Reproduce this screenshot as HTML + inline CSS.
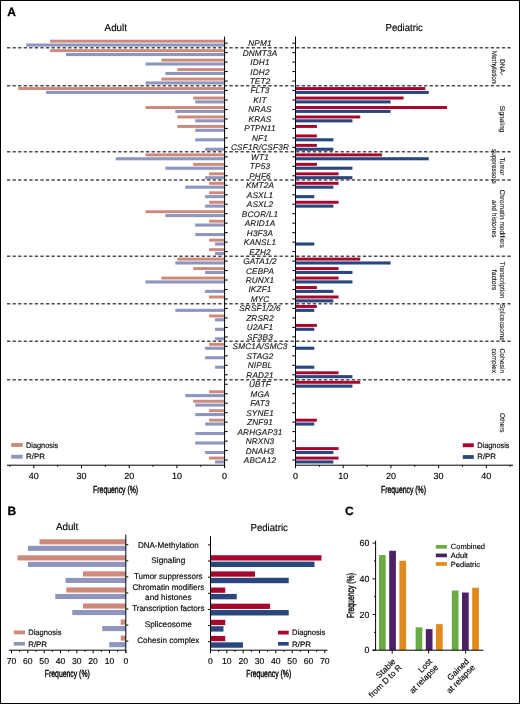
<!DOCTYPE html><html><head><meta charset="utf-8"><style>html,body{margin:0;padding:0;background:#fff;}svg{display:block;will-change:transform;}text{font-family:"Liberation Sans", sans-serif;stroke:#111;stroke-width:0.16px;text-rendering:geometricPrecision;}</style></head><body>
<svg width="520" height="704" viewBox="0 0 520 704">
<text x="7.2" y="16" font-size="12" font-weight="bold" style="stroke-width:0.3px">A</text>
<text x="115.8" y="31.1" font-size="10.2" text-anchor="middle" textLength="22.4" lengthAdjust="spacingAndGlyphs">Adult</text>
<text x="404.2" y="31.1" font-size="10.1" text-anchor="middle" textLength="37.2" lengthAdjust="spacingAndGlyphs">Pediatric</text>
<rect x="50.10" y="39.70" width="174.90" height="2.95" fill="#cd8a7b"/>
<rect x="26.25" y="43.50" width="198.75" height="3.1" fill="#8e96bd"/>
<rect x="50.10" y="49.17" width="174.90" height="2.95" fill="#cd8a7b"/>
<rect x="66.00" y="52.98" width="159.00" height="3.1" fill="#8e96bd"/>
<rect x="161.40" y="58.65" width="63.60" height="2.95" fill="#cd8a7b"/>
<rect x="145.50" y="62.45" width="79.50" height="3.1" fill="#8e96bd"/>
<rect x="177.30" y="68.12" width="47.70" height="2.95" fill="#cd8a7b"/>
<rect x="165.38" y="71.92" width="59.62" height="3.1" fill="#8e96bd"/>
<rect x="161.40" y="77.60" width="63.60" height="2.95" fill="#cd8a7b"/>
<rect x="145.50" y="81.40" width="79.50" height="3.1" fill="#8e96bd"/>
<rect x="18.30" y="87.08" width="206.70" height="2.95" fill="#cd8a7b"/>
<rect x="46.13" y="90.88" width="178.87" height="3.1" fill="#8e96bd"/>
<rect x="295.20" y="87.08" width="130.09" height="2.95" fill="#a8072d"/>
<rect x="295.20" y="90.88" width="133.56" height="3.1" fill="#29477e"/>
<rect x="193.20" y="96.55" width="31.80" height="2.95" fill="#cd8a7b"/>
<rect x="195.19" y="100.35" width="29.81" height="3.1" fill="#8e96bd"/>
<rect x="295.20" y="96.55" width="108.41" height="2.95" fill="#a8072d"/>
<rect x="295.20" y="100.35" width="95.40" height="3.1" fill="#29477e"/>
<rect x="145.50" y="106.03" width="79.50" height="2.95" fill="#cd8a7b"/>
<rect x="175.31" y="109.83" width="49.69" height="3.1" fill="#8e96bd"/>
<rect x="295.20" y="106.03" width="151.77" height="2.95" fill="#a8072d"/>
<rect x="295.20" y="109.83" width="95.40" height="3.1" fill="#29477e"/>
<rect x="177.30" y="115.50" width="47.70" height="2.95" fill="#cd8a7b"/>
<rect x="195.19" y="119.30" width="29.81" height="3.1" fill="#8e96bd"/>
<rect x="295.20" y="115.50" width="65.05" height="2.95" fill="#a8072d"/>
<rect x="295.20" y="119.30" width="57.24" height="3.1" fill="#29477e"/>
<rect x="177.30" y="124.97" width="47.70" height="2.95" fill="#cd8a7b"/>
<rect x="195.19" y="128.77" width="29.81" height="3.1" fill="#8e96bd"/>
<rect x="295.20" y="124.97" width="21.68" height="2.95" fill="#a8072d"/>
<rect x="195.19" y="138.25" width="29.81" height="3.1" fill="#8e96bd"/>
<rect x="295.20" y="134.45" width="21.68" height="2.95" fill="#a8072d"/>
<rect x="295.20" y="138.25" width="38.16" height="3.1" fill="#29477e"/>
<rect x="205.12" y="147.72" width="19.88" height="3.1" fill="#8e96bd"/>
<rect x="295.20" y="143.92" width="21.68" height="2.95" fill="#a8072d"/>
<rect x="295.20" y="147.72" width="38.16" height="3.1" fill="#29477e"/>
<rect x="145.50" y="153.40" width="79.50" height="2.95" fill="#cd8a7b"/>
<rect x="115.69" y="157.20" width="109.31" height="3.1" fill="#8e96bd"/>
<rect x="295.20" y="153.40" width="86.73" height="2.95" fill="#a8072d"/>
<rect x="295.20" y="157.20" width="133.56" height="3.1" fill="#29477e"/>
<rect x="193.20" y="162.88" width="31.80" height="2.95" fill="#cd8a7b"/>
<rect x="165.38" y="166.67" width="59.62" height="3.1" fill="#8e96bd"/>
<rect x="295.20" y="162.88" width="21.68" height="2.95" fill="#a8072d"/>
<rect x="295.20" y="166.67" width="57.24" height="3.1" fill="#29477e"/>
<rect x="209.10" y="172.35" width="15.90" height="2.95" fill="#cd8a7b"/>
<rect x="205.12" y="176.15" width="19.88" height="3.1" fill="#8e96bd"/>
<rect x="295.20" y="172.35" width="43.36" height="2.95" fill="#a8072d"/>
<rect x="295.20" y="176.15" width="57.24" height="3.1" fill="#29477e"/>
<rect x="209.10" y="181.83" width="15.90" height="2.95" fill="#cd8a7b"/>
<rect x="185.25" y="185.62" width="39.75" height="3.1" fill="#8e96bd"/>
<rect x="295.20" y="181.83" width="43.36" height="2.95" fill="#a8072d"/>
<rect x="295.20" y="185.62" width="38.16" height="3.1" fill="#29477e"/>
<rect x="209.10" y="191.30" width="15.90" height="2.95" fill="#cd8a7b"/>
<rect x="205.12" y="195.10" width="19.88" height="3.1" fill="#8e96bd"/>
<rect x="295.20" y="195.10" width="19.08" height="3.1" fill="#29477e"/>
<rect x="209.10" y="200.78" width="15.90" height="2.95" fill="#cd8a7b"/>
<rect x="205.12" y="204.57" width="19.88" height="3.1" fill="#8e96bd"/>
<rect x="295.20" y="200.78" width="43.36" height="2.95" fill="#a8072d"/>
<rect x="295.20" y="204.57" width="38.16" height="3.1" fill="#29477e"/>
<rect x="145.50" y="210.25" width="79.50" height="2.95" fill="#cd8a7b"/>
<rect x="165.38" y="214.05" width="59.62" height="3.1" fill="#8e96bd"/>
<rect x="209.10" y="219.72" width="15.90" height="2.95" fill="#cd8a7b"/>
<rect x="195.19" y="223.52" width="29.81" height="3.1" fill="#8e96bd"/>
<rect x="195.19" y="233.00" width="29.81" height="3.1" fill="#8e96bd"/>
<rect x="209.10" y="238.67" width="15.90" height="2.95" fill="#cd8a7b"/>
<rect x="215.06" y="242.47" width="9.94" height="3.1" fill="#8e96bd"/>
<rect x="295.20" y="242.47" width="19.08" height="3.1" fill="#29477e"/>
<rect x="209.10" y="248.15" width="15.90" height="2.95" fill="#cd8a7b"/>
<rect x="215.06" y="251.95" width="9.94" height="3.1" fill="#8e96bd"/>
<rect x="177.30" y="257.62" width="47.70" height="2.95" fill="#cd8a7b"/>
<rect x="175.31" y="261.42" width="49.69" height="3.1" fill="#8e96bd"/>
<rect x="295.20" y="257.62" width="65.05" height="2.95" fill="#a8072d"/>
<rect x="295.20" y="261.42" width="95.40" height="3.1" fill="#29477e"/>
<rect x="193.20" y="267.10" width="31.80" height="2.95" fill="#cd8a7b"/>
<rect x="205.12" y="270.90" width="19.88" height="3.1" fill="#8e96bd"/>
<rect x="295.20" y="267.10" width="43.36" height="2.95" fill="#a8072d"/>
<rect x="295.20" y="270.90" width="57.24" height="3.1" fill="#29477e"/>
<rect x="161.40" y="276.57" width="63.60" height="2.95" fill="#cd8a7b"/>
<rect x="145.50" y="280.38" width="79.50" height="3.1" fill="#8e96bd"/>
<rect x="295.20" y="276.57" width="43.36" height="2.95" fill="#a8072d"/>
<rect x="295.20" y="280.38" width="57.24" height="3.1" fill="#29477e"/>
<rect x="205.12" y="289.85" width="19.88" height="3.1" fill="#8e96bd"/>
<rect x="295.20" y="286.05" width="21.68" height="2.95" fill="#a8072d"/>
<rect x="295.20" y="289.85" width="38.16" height="3.1" fill="#29477e"/>
<rect x="209.10" y="295.52" width="15.90" height="2.95" fill="#cd8a7b"/>
<rect x="295.20" y="295.52" width="43.36" height="2.95" fill="#a8072d"/>
<rect x="295.20" y="299.32" width="38.16" height="3.1" fill="#29477e"/>
<rect x="175.31" y="308.80" width="49.69" height="3.1" fill="#8e96bd"/>
<rect x="295.20" y="305.00" width="21.68" height="2.95" fill="#a8072d"/>
<rect x="295.20" y="308.80" width="19.08" height="3.1" fill="#29477e"/>
<rect x="209.10" y="314.47" width="15.90" height="2.95" fill="#cd8a7b"/>
<rect x="215.06" y="318.27" width="9.94" height="3.1" fill="#8e96bd"/>
<rect x="215.06" y="327.75" width="9.94" height="3.1" fill="#8e96bd"/>
<rect x="295.20" y="323.95" width="21.68" height="2.95" fill="#a8072d"/>
<rect x="295.20" y="327.75" width="19.08" height="3.1" fill="#29477e"/>
<rect x="215.06" y="337.22" width="9.94" height="3.1" fill="#8e96bd"/>
<rect x="209.10" y="342.90" width="15.90" height="2.95" fill="#cd8a7b"/>
<rect x="205.12" y="346.70" width="19.88" height="3.1" fill="#8e96bd"/>
<rect x="295.20" y="346.70" width="19.08" height="3.1" fill="#29477e"/>
<rect x="205.12" y="356.18" width="19.88" height="3.1" fill="#8e96bd"/>
<rect x="215.06" y="365.65" width="9.94" height="3.1" fill="#8e96bd"/>
<rect x="295.20" y="365.65" width="19.08" height="3.1" fill="#29477e"/>
<rect x="295.20" y="371.32" width="43.36" height="2.95" fill="#a8072d"/>
<rect x="295.20" y="375.12" width="57.24" height="3.1" fill="#29477e"/>
<rect x="295.20" y="380.80" width="65.05" height="2.95" fill="#a8072d"/>
<rect x="295.20" y="384.60" width="57.24" height="3.1" fill="#29477e"/>
<rect x="209.10" y="390.27" width="15.90" height="2.95" fill="#cd8a7b"/>
<rect x="185.25" y="394.07" width="39.75" height="3.1" fill="#8e96bd"/>
<rect x="193.20" y="399.75" width="31.80" height="2.95" fill="#cd8a7b"/>
<rect x="195.19" y="403.55" width="29.81" height="3.1" fill="#8e96bd"/>
<rect x="209.10" y="409.22" width="15.90" height="2.95" fill="#cd8a7b"/>
<rect x="195.19" y="413.02" width="29.81" height="3.1" fill="#8e96bd"/>
<rect x="209.10" y="418.70" width="15.90" height="2.95" fill="#cd8a7b"/>
<rect x="205.12" y="422.50" width="19.88" height="3.1" fill="#8e96bd"/>
<rect x="295.20" y="418.70" width="21.68" height="2.95" fill="#a8072d"/>
<rect x="295.20" y="422.50" width="19.08" height="3.1" fill="#29477e"/>
<rect x="195.19" y="431.97" width="29.81" height="3.1" fill="#8e96bd"/>
<rect x="195.19" y="441.45" width="29.81" height="3.1" fill="#8e96bd"/>
<rect x="205.12" y="450.93" width="19.88" height="3.1" fill="#8e96bd"/>
<rect x="295.20" y="447.12" width="43.36" height="2.95" fill="#a8072d"/>
<rect x="295.20" y="450.93" width="38.16" height="3.1" fill="#29477e"/>
<rect x="209.10" y="456.60" width="15.90" height="2.95" fill="#cd8a7b"/>
<rect x="215.06" y="460.40" width="9.94" height="3.1" fill="#8e96bd"/>
<rect x="295.20" y="456.60" width="43.36" height="2.95" fill="#a8072d"/>
<rect x="295.20" y="460.40" width="38.16" height="3.1" fill="#29477e"/>
<line x1="7" y1="47.75" x2="511.5" y2="47.75" stroke="#4d4d4d" stroke-width="1.3" stroke-dasharray="3.3 2.26"/>
<line x1="7" y1="85.75" x2="511.5" y2="85.75" stroke="#4d4d4d" stroke-width="1.3" stroke-dasharray="3.3 2.26"/>
<line x1="7" y1="151.75" x2="511.5" y2="151.75" stroke="#4d4d4d" stroke-width="1.3" stroke-dasharray="3.3 2.26"/>
<line x1="7" y1="180.0" x2="511.5" y2="180.0" stroke="#4d4d4d" stroke-width="1.3" stroke-dasharray="3.3 2.26"/>
<line x1="7" y1="256.25" x2="511.5" y2="256.25" stroke="#4d4d4d" stroke-width="1.3" stroke-dasharray="3.3 2.26"/>
<line x1="7" y1="303.75" x2="511.5" y2="303.75" stroke="#4d4d4d" stroke-width="1.3" stroke-dasharray="3.3 2.26"/>
<line x1="7" y1="341.25" x2="511.5" y2="341.25" stroke="#4d4d4d" stroke-width="1.3" stroke-dasharray="3.3 2.26"/>
<line x1="7" y1="379.75" x2="511.5" y2="379.75" stroke="#4d4d4d" stroke-width="1.3" stroke-dasharray="3.3 2.26"/>
<g stroke="#000" stroke-width="1" fill="none">
<line x1="224.6" y1="36.5" x2="224.6" y2="468"/>
<line x1="295.5" y1="36.5" x2="295.5" y2="468"/>
<line x1="7" y1="465.2" x2="224.6" y2="465.2"/>
<line x1="295.5" y1="465.2" x2="513" y2="465.2"/>
<line x1="224.6" y1="43.15" x2="227.8" y2="43.15"/>
<line x1="292.3" y1="43.15" x2="295.5" y2="43.15"/>
<line x1="224.6" y1="52.62" x2="227.8" y2="52.62"/>
<line x1="292.3" y1="52.62" x2="295.5" y2="52.62"/>
<line x1="224.6" y1="62.10" x2="227.8" y2="62.10"/>
<line x1="292.3" y1="62.10" x2="295.5" y2="62.10"/>
<line x1="224.6" y1="71.57" x2="227.8" y2="71.57"/>
<line x1="292.3" y1="71.57" x2="295.5" y2="71.57"/>
<line x1="224.6" y1="81.05" x2="227.8" y2="81.05"/>
<line x1="292.3" y1="81.05" x2="295.5" y2="81.05"/>
<line x1="224.6" y1="90.52" x2="227.8" y2="90.52"/>
<line x1="292.3" y1="90.52" x2="295.5" y2="90.52"/>
<line x1="224.6" y1="100.00" x2="227.8" y2="100.00"/>
<line x1="292.3" y1="100.00" x2="295.5" y2="100.00"/>
<line x1="224.6" y1="109.47" x2="227.8" y2="109.47"/>
<line x1="292.3" y1="109.47" x2="295.5" y2="109.47"/>
<line x1="224.6" y1="118.95" x2="227.8" y2="118.95"/>
<line x1="292.3" y1="118.95" x2="295.5" y2="118.95"/>
<line x1="224.6" y1="128.42" x2="227.8" y2="128.42"/>
<line x1="292.3" y1="128.42" x2="295.5" y2="128.42"/>
<line x1="224.6" y1="137.90" x2="227.8" y2="137.90"/>
<line x1="292.3" y1="137.90" x2="295.5" y2="137.90"/>
<line x1="224.6" y1="147.37" x2="227.8" y2="147.37"/>
<line x1="292.3" y1="147.37" x2="295.5" y2="147.37"/>
<line x1="224.6" y1="156.85" x2="227.8" y2="156.85"/>
<line x1="292.3" y1="156.85" x2="295.5" y2="156.85"/>
<line x1="224.6" y1="166.32" x2="227.8" y2="166.32"/>
<line x1="292.3" y1="166.32" x2="295.5" y2="166.32"/>
<line x1="224.6" y1="175.80" x2="227.8" y2="175.80"/>
<line x1="292.3" y1="175.80" x2="295.5" y2="175.80"/>
<line x1="224.6" y1="185.28" x2="227.8" y2="185.28"/>
<line x1="292.3" y1="185.28" x2="295.5" y2="185.28"/>
<line x1="224.6" y1="194.75" x2="227.8" y2="194.75"/>
<line x1="292.3" y1="194.75" x2="295.5" y2="194.75"/>
<line x1="224.6" y1="204.22" x2="227.8" y2="204.22"/>
<line x1="292.3" y1="204.22" x2="295.5" y2="204.22"/>
<line x1="224.6" y1="213.70" x2="227.8" y2="213.70"/>
<line x1="292.3" y1="213.70" x2="295.5" y2="213.70"/>
<line x1="224.6" y1="223.17" x2="227.8" y2="223.17"/>
<line x1="292.3" y1="223.17" x2="295.5" y2="223.17"/>
<line x1="224.6" y1="232.65" x2="227.8" y2="232.65"/>
<line x1="292.3" y1="232.65" x2="295.5" y2="232.65"/>
<line x1="224.6" y1="242.12" x2="227.8" y2="242.12"/>
<line x1="292.3" y1="242.12" x2="295.5" y2="242.12"/>
<line x1="224.6" y1="251.60" x2="227.8" y2="251.60"/>
<line x1="292.3" y1="251.60" x2="295.5" y2="251.60"/>
<line x1="224.6" y1="261.07" x2="227.8" y2="261.07"/>
<line x1="292.3" y1="261.07" x2="295.5" y2="261.07"/>
<line x1="224.6" y1="270.55" x2="227.8" y2="270.55"/>
<line x1="292.3" y1="270.55" x2="295.5" y2="270.55"/>
<line x1="224.6" y1="280.03" x2="227.8" y2="280.03"/>
<line x1="292.3" y1="280.03" x2="295.5" y2="280.03"/>
<line x1="224.6" y1="289.50" x2="227.8" y2="289.50"/>
<line x1="292.3" y1="289.50" x2="295.5" y2="289.50"/>
<line x1="224.6" y1="298.98" x2="227.8" y2="298.98"/>
<line x1="292.3" y1="298.98" x2="295.5" y2="298.98"/>
<line x1="224.6" y1="308.45" x2="227.8" y2="308.45"/>
<line x1="292.3" y1="308.45" x2="295.5" y2="308.45"/>
<line x1="224.6" y1="317.93" x2="227.8" y2="317.93"/>
<line x1="292.3" y1="317.93" x2="295.5" y2="317.93"/>
<line x1="224.6" y1="327.40" x2="227.8" y2="327.40"/>
<line x1="292.3" y1="327.40" x2="295.5" y2="327.40"/>
<line x1="224.6" y1="336.88" x2="227.8" y2="336.88"/>
<line x1="292.3" y1="336.88" x2="295.5" y2="336.88"/>
<line x1="224.6" y1="346.35" x2="227.8" y2="346.35"/>
<line x1="292.3" y1="346.35" x2="295.5" y2="346.35"/>
<line x1="224.6" y1="355.83" x2="227.8" y2="355.83"/>
<line x1="292.3" y1="355.83" x2="295.5" y2="355.83"/>
<line x1="224.6" y1="365.30" x2="227.8" y2="365.30"/>
<line x1="292.3" y1="365.30" x2="295.5" y2="365.30"/>
<line x1="224.6" y1="374.78" x2="227.8" y2="374.78"/>
<line x1="292.3" y1="374.78" x2="295.5" y2="374.78"/>
<line x1="224.6" y1="384.25" x2="227.8" y2="384.25"/>
<line x1="292.3" y1="384.25" x2="295.5" y2="384.25"/>
<line x1="224.6" y1="393.73" x2="227.8" y2="393.73"/>
<line x1="292.3" y1="393.73" x2="295.5" y2="393.73"/>
<line x1="224.6" y1="403.20" x2="227.8" y2="403.20"/>
<line x1="292.3" y1="403.20" x2="295.5" y2="403.20"/>
<line x1="224.6" y1="412.68" x2="227.8" y2="412.68"/>
<line x1="292.3" y1="412.68" x2="295.5" y2="412.68"/>
<line x1="224.6" y1="422.15" x2="227.8" y2="422.15"/>
<line x1="292.3" y1="422.15" x2="295.5" y2="422.15"/>
<line x1="224.6" y1="431.62" x2="227.8" y2="431.62"/>
<line x1="292.3" y1="431.62" x2="295.5" y2="431.62"/>
<line x1="224.6" y1="441.10" x2="227.8" y2="441.10"/>
<line x1="292.3" y1="441.10" x2="295.5" y2="441.10"/>
<line x1="224.6" y1="450.58" x2="227.8" y2="450.58"/>
<line x1="292.3" y1="450.58" x2="295.5" y2="450.58"/>
<line x1="224.6" y1="460.05" x2="227.8" y2="460.05"/>
<line x1="292.3" y1="460.05" x2="295.5" y2="460.05"/>
<line x1="224.60" y1="465.2" x2="224.60" y2="468.2"/>
<line x1="295.50" y1="465.2" x2="295.50" y2="468.2"/>
<line x1="200.75" y1="465.2" x2="200.75" y2="466.8"/>
<line x1="319.35" y1="465.2" x2="319.35" y2="466.8"/>
<line x1="176.90" y1="465.2" x2="176.90" y2="468.2"/>
<line x1="343.20" y1="465.2" x2="343.20" y2="468.2"/>
<line x1="153.05" y1="465.2" x2="153.05" y2="466.8"/>
<line x1="367.05" y1="465.2" x2="367.05" y2="466.8"/>
<line x1="129.20" y1="465.2" x2="129.20" y2="468.2"/>
<line x1="390.90" y1="465.2" x2="390.90" y2="468.2"/>
<line x1="105.35" y1="465.2" x2="105.35" y2="466.8"/>
<line x1="414.75" y1="465.2" x2="414.75" y2="466.8"/>
<line x1="81.50" y1="465.2" x2="81.50" y2="468.2"/>
<line x1="438.60" y1="465.2" x2="438.60" y2="468.2"/>
<line x1="57.65" y1="465.2" x2="57.65" y2="466.8"/>
<line x1="462.45" y1="465.2" x2="462.45" y2="466.8"/>
<line x1="33.80" y1="465.2" x2="33.80" y2="468.2"/>
<line x1="486.30" y1="465.2" x2="486.30" y2="468.2"/>
<line x1="9.95" y1="465.2" x2="9.95" y2="466.8"/>
<line x1="510.15" y1="465.2" x2="510.15" y2="466.8"/>
</g>
<text x="260" y="46.10" font-size="8.2" font-style="italic" fill="#1a1a1a" style="stroke:#1a1a1a;stroke-width:0.14px" letter-spacing="0.18" text-anchor="middle">NPM1</text>
<text x="260" y="55.57" font-size="8.2" font-style="italic" fill="#1a1a1a" style="stroke:#1a1a1a;stroke-width:0.14px" letter-spacing="0.18" text-anchor="middle">DNMT3A</text>
<text x="260" y="65.05" font-size="8.2" font-style="italic" fill="#1a1a1a" style="stroke:#1a1a1a;stroke-width:0.14px" letter-spacing="0.18" text-anchor="middle">IDH1</text>
<text x="260" y="74.52" font-size="8.2" font-style="italic" fill="#1a1a1a" style="stroke:#1a1a1a;stroke-width:0.14px" letter-spacing="0.18" text-anchor="middle">IDH2</text>
<text x="260" y="84.00" font-size="8.2" font-style="italic" fill="#1a1a1a" style="stroke:#1a1a1a;stroke-width:0.14px" letter-spacing="0.18" text-anchor="middle">TET2</text>
<text x="260" y="93.47" font-size="8.2" font-style="italic" fill="#1a1a1a" style="stroke:#1a1a1a;stroke-width:0.14px" letter-spacing="0.18" text-anchor="middle">FLT3</text>
<text x="260" y="102.95" font-size="8.2" font-style="italic" fill="#1a1a1a" style="stroke:#1a1a1a;stroke-width:0.14px" letter-spacing="0.18" text-anchor="middle">KIT</text>
<text x="260" y="112.42" font-size="8.2" font-style="italic" fill="#1a1a1a" style="stroke:#1a1a1a;stroke-width:0.14px" letter-spacing="0.18" text-anchor="middle">NRAS</text>
<text x="260" y="121.90" font-size="8.2" font-style="italic" fill="#1a1a1a" style="stroke:#1a1a1a;stroke-width:0.14px" letter-spacing="0.18" text-anchor="middle">KRAS</text>
<text x="260" y="131.38" font-size="8.2" font-style="italic" fill="#1a1a1a" style="stroke:#1a1a1a;stroke-width:0.14px" letter-spacing="0.18" text-anchor="middle">PTPN11</text>
<text x="260" y="140.85" font-size="8.2" font-style="italic" fill="#1a1a1a" style="stroke:#1a1a1a;stroke-width:0.14px" letter-spacing="0.18" text-anchor="middle">NF1</text>
<text x="260" y="150.32" font-size="8.2" font-style="italic" fill="#1a1a1a" style="stroke:#1a1a1a;stroke-width:0.14px" letter-spacing="0.18" text-anchor="middle">CSF1R/CSF3R</text>
<text x="260" y="159.80" font-size="8.2" font-style="italic" fill="#1a1a1a" style="stroke:#1a1a1a;stroke-width:0.14px" letter-spacing="0.18" text-anchor="middle">WT1</text>
<text x="260" y="169.28" font-size="8.2" font-style="italic" fill="#1a1a1a" style="stroke:#1a1a1a;stroke-width:0.14px" letter-spacing="0.18" text-anchor="middle">TP53</text>
<text x="260" y="178.75" font-size="8.2" font-style="italic" fill="#1a1a1a" style="stroke:#1a1a1a;stroke-width:0.14px" letter-spacing="0.18" text-anchor="middle">PHF6</text>
<text x="260" y="188.23" font-size="8.2" font-style="italic" fill="#1a1a1a" style="stroke:#1a1a1a;stroke-width:0.14px" letter-spacing="0.18" text-anchor="middle">KMT2A</text>
<text x="260" y="197.70" font-size="8.2" font-style="italic" fill="#1a1a1a" style="stroke:#1a1a1a;stroke-width:0.14px" letter-spacing="0.18" text-anchor="middle">ASXL1</text>
<text x="260" y="207.18" font-size="8.2" font-style="italic" fill="#1a1a1a" style="stroke:#1a1a1a;stroke-width:0.14px" letter-spacing="0.18" text-anchor="middle">ASXL2</text>
<text x="260" y="216.65" font-size="8.2" font-style="italic" fill="#1a1a1a" style="stroke:#1a1a1a;stroke-width:0.14px" letter-spacing="0.18" text-anchor="middle">BCOR/L1</text>
<text x="260" y="226.12" font-size="8.2" font-style="italic" fill="#1a1a1a" style="stroke:#1a1a1a;stroke-width:0.14px" letter-spacing="0.18" text-anchor="middle">ARID1A</text>
<text x="260" y="235.60" font-size="8.2" font-style="italic" fill="#1a1a1a" style="stroke:#1a1a1a;stroke-width:0.14px" letter-spacing="0.18" text-anchor="middle">H3F3A</text>
<text x="260" y="245.07" font-size="8.2" font-style="italic" fill="#1a1a1a" style="stroke:#1a1a1a;stroke-width:0.14px" letter-spacing="0.18" text-anchor="middle">KANSL1</text>
<text x="260" y="254.55" font-size="8.2" font-style="italic" fill="#1a1a1a" style="stroke:#1a1a1a;stroke-width:0.14px" letter-spacing="0.18" text-anchor="middle">EZH2</text>
<text x="260" y="264.02" font-size="8.2" font-style="italic" fill="#1a1a1a" style="stroke:#1a1a1a;stroke-width:0.14px" letter-spacing="0.18" text-anchor="middle">GATA1/2</text>
<text x="260" y="273.50" font-size="8.2" font-style="italic" fill="#1a1a1a" style="stroke:#1a1a1a;stroke-width:0.14px" letter-spacing="0.18" text-anchor="middle">CEBPA</text>
<text x="260" y="282.98" font-size="8.2" font-style="italic" fill="#1a1a1a" style="stroke:#1a1a1a;stroke-width:0.14px" letter-spacing="0.18" text-anchor="middle">RUNX1</text>
<text x="260" y="292.45" font-size="8.2" font-style="italic" fill="#1a1a1a" style="stroke:#1a1a1a;stroke-width:0.14px" letter-spacing="0.18" text-anchor="middle">IKZF1</text>
<text x="260" y="301.93" font-size="8.2" font-style="italic" fill="#1a1a1a" style="stroke:#1a1a1a;stroke-width:0.14px" letter-spacing="0.18" text-anchor="middle">MYC</text>
<text x="260" y="311.40" font-size="8.2" font-style="italic" fill="#1a1a1a" style="stroke:#1a1a1a;stroke-width:0.14px" letter-spacing="0.18" text-anchor="middle">SRSF1/2/6</text>
<text x="260" y="320.88" font-size="8.2" font-style="italic" fill="#1a1a1a" style="stroke:#1a1a1a;stroke-width:0.14px" letter-spacing="0.18" text-anchor="middle">ZRSR2</text>
<text x="260" y="330.35" font-size="8.2" font-style="italic" fill="#1a1a1a" style="stroke:#1a1a1a;stroke-width:0.14px" letter-spacing="0.18" text-anchor="middle">U2AF1</text>
<text x="260" y="339.82" font-size="8.2" font-style="italic" fill="#1a1a1a" style="stroke:#1a1a1a;stroke-width:0.14px" letter-spacing="0.18" text-anchor="middle">SF3B3</text>
<text x="260" y="349.30" font-size="8.2" font-style="italic" fill="#1a1a1a" style="stroke:#1a1a1a;stroke-width:0.14px" letter-spacing="0.18" text-anchor="middle">SMC1A/SMC3</text>
<text x="260" y="358.78" font-size="8.2" font-style="italic" fill="#1a1a1a" style="stroke:#1a1a1a;stroke-width:0.14px" letter-spacing="0.18" text-anchor="middle">STAG2</text>
<text x="260" y="368.25" font-size="8.2" font-style="italic" fill="#1a1a1a" style="stroke:#1a1a1a;stroke-width:0.14px" letter-spacing="0.18" text-anchor="middle">NIPBL</text>
<text x="260" y="377.73" font-size="8.2" font-style="italic" fill="#1a1a1a" style="stroke:#1a1a1a;stroke-width:0.14px" letter-spacing="0.18" text-anchor="middle">RAD21</text>
<text x="260" y="387.20" font-size="8.2" font-style="italic" fill="#1a1a1a" style="stroke:#1a1a1a;stroke-width:0.14px" letter-spacing="0.18" text-anchor="middle">UBTF</text>
<text x="260" y="396.68" font-size="8.2" font-style="italic" fill="#1a1a1a" style="stroke:#1a1a1a;stroke-width:0.14px" letter-spacing="0.18" text-anchor="middle">MGA</text>
<text x="260" y="406.15" font-size="8.2" font-style="italic" fill="#1a1a1a" style="stroke:#1a1a1a;stroke-width:0.14px" letter-spacing="0.18" text-anchor="middle">FAT3</text>
<text x="260" y="415.62" font-size="8.2" font-style="italic" fill="#1a1a1a" style="stroke:#1a1a1a;stroke-width:0.14px" letter-spacing="0.18" text-anchor="middle">SYNE1</text>
<text x="260" y="425.10" font-size="8.2" font-style="italic" fill="#1a1a1a" style="stroke:#1a1a1a;stroke-width:0.14px" letter-spacing="0.18" text-anchor="middle">ZNF91</text>
<text x="260" y="434.57" font-size="8.2" font-style="italic" fill="#1a1a1a" style="stroke:#1a1a1a;stroke-width:0.14px" letter-spacing="0.18" text-anchor="middle">ARHGAP31</text>
<text x="260" y="444.05" font-size="8.2" font-style="italic" fill="#1a1a1a" style="stroke:#1a1a1a;stroke-width:0.14px" letter-spacing="0.18" text-anchor="middle">NRXN3</text>
<text x="260" y="453.53" font-size="8.2" font-style="italic" fill="#1a1a1a" style="stroke:#1a1a1a;stroke-width:0.14px" letter-spacing="0.18" text-anchor="middle">DNAH3</text>
<text x="260" y="463.00" font-size="8.2" font-style="italic" fill="#1a1a1a" style="stroke:#1a1a1a;stroke-width:0.14px" letter-spacing="0.18" text-anchor="middle">ABCA12</text>
<text x="224.60" y="479" font-size="9" text-anchor="middle">0</text>
<text x="295.50" y="479" font-size="9" text-anchor="middle">0</text>
<text x="176.90" y="479" font-size="9" text-anchor="middle">10</text>
<text x="343.20" y="479" font-size="9" text-anchor="middle">10</text>
<text x="129.20" y="479" font-size="9" text-anchor="middle">20</text>
<text x="390.90" y="479" font-size="9" text-anchor="middle">20</text>
<text x="81.50" y="479" font-size="9" text-anchor="middle">30</text>
<text x="438.60" y="479" font-size="9" text-anchor="middle">30</text>
<text x="33.80" y="479" font-size="9" text-anchor="middle">40</text>
<text x="486.30" y="479" font-size="9" text-anchor="middle">40</text>
<text x="93.1" y="492.7" font-size="10.2" style="stroke:#000;stroke-width:0.4px" textLength="45" lengthAdjust="spacingAndGlyphs">Frequency (%)</text>
<text x="381" y="492.7" font-size="10.2" style="stroke:#000;stroke-width:0.4px" textLength="45" lengthAdjust="spacingAndGlyphs">Frequency (%)</text>
<rect x="11.2" y="443" width="11.5" height="3.9" fill="#cd8a7b"/>
<text x="26" y="447.7" font-size="7.9" textLength="32.3" lengthAdjust="spacingAndGlyphs">Diagnosis</text>
<rect x="11.2" y="454.8" width="11.5" height="3.9" fill="#8e96bd"/>
<text x="26" y="459.4" font-size="7.9">R/PR</text>
<rect x="462.8" y="443.3" width="11" height="3.9" fill="#a8072d"/>
<text x="477.2" y="447.7" font-size="7.9" textLength="32.3" lengthAdjust="spacingAndGlyphs">Diagnosis</text>
<rect x="462.8" y="455.1" width="11" height="3.8" fill="#29477e"/>
<text x="477.2" y="459.4" font-size="7.9">R/PR</text>
<text transform="translate(500.3,67.1) rotate(90)" x="0" y="0" font-size="7" fill="#111" style="stroke:#111;stroke-width:0.12px" text-anchor="middle" textLength="16.0" lengthAdjust="spacingAndGlyphs">DNA-</text>
<text transform="translate(492.4,67.1) rotate(90)" x="0" y="0" font-size="7" fill="#111" style="stroke:#111;stroke-width:0.12px" text-anchor="middle" textLength="32.800000000000004" lengthAdjust="spacingAndGlyphs">Methylation</text>
<text transform="translate(500.3,119.0) rotate(90)" x="0" y="0" font-size="7" fill="#111" style="stroke:#111;stroke-width:0.12px" text-anchor="middle" textLength="26.700000000000003" lengthAdjust="spacingAndGlyphs">Signaling</text>
<text transform="translate(500.3,166.4) rotate(90)" x="0" y="0" font-size="7" fill="#111" style="stroke:#111;stroke-width:0.12px" text-anchor="middle" textLength="17.700000000000003" lengthAdjust="spacingAndGlyphs">Tumor</text>
<text transform="translate(492.4,166.4) rotate(90)" x="0" y="0" font-size="7" fill="#111" style="stroke:#111;stroke-width:0.12px" text-anchor="middle" textLength="34.6" lengthAdjust="spacingAndGlyphs">suppressors</text>
<text transform="translate(500.3,218.7) rotate(90)" x="0" y="0" font-size="7" fill="#111" style="stroke:#111;stroke-width:0.12px" text-anchor="middle" textLength="58.1" lengthAdjust="spacingAndGlyphs">Chromatin modifiers</text>
<text transform="translate(492.4,218.7) rotate(90)" x="0" y="0" font-size="7" fill="#111" style="stroke:#111;stroke-width:0.12px" text-anchor="middle" textLength="37.5" lengthAdjust="spacingAndGlyphs">and histones</text>
<text transform="translate(500.3,280.0) rotate(90)" x="0" y="0" font-size="7" fill="#111" style="stroke:#111;stroke-width:0.12px" text-anchor="middle" textLength="36.4" lengthAdjust="spacingAndGlyphs">Transcription</text>
<text transform="translate(492.4,280.0) rotate(90)" x="0" y="0" font-size="7" fill="#111" style="stroke:#111;stroke-width:0.12px" text-anchor="middle" textLength="20.5" lengthAdjust="spacingAndGlyphs">factors</text>
<text transform="translate(500.3,322.3) rotate(90)" x="0" y="0" font-size="7" fill="#111" style="stroke:#111;stroke-width:0.12px" text-anchor="middle" textLength="36.800000000000004" lengthAdjust="spacingAndGlyphs">Spliceosome</text>
<text transform="translate(500.3,360.8) rotate(90)" x="0" y="0" font-size="7" fill="#111" style="stroke:#111;stroke-width:0.12px" text-anchor="middle" textLength="24.8" lengthAdjust="spacingAndGlyphs">Cohesin</text>
<text transform="translate(492.4,360.8) rotate(90)" x="0" y="0" font-size="7" fill="#111" style="stroke:#111;stroke-width:0.12px" text-anchor="middle" textLength="24.5" lengthAdjust="spacingAndGlyphs">complex</text>
<text transform="translate(500.3,422.8) rotate(90)" x="0" y="0" font-size="7" fill="#111" style="stroke:#111;stroke-width:0.12px" text-anchor="middle" textLength="19.700000000000003" lengthAdjust="spacingAndGlyphs">Others</text>
<text x="7.4" y="515" font-size="12" font-weight="bold" style="stroke-width:0.3px">B</text>
<text x="67.1" y="530" font-size="10.2" text-anchor="middle" textLength="22.4" lengthAdjust="spacingAndGlyphs">Adult</text>
<text x="269.2" y="530.8" font-size="10.1" text-anchor="middle" textLength="37.4" lengthAdjust="spacingAndGlyphs">Pediatric</text>
<rect x="39.5" y="539.25" width="86.30" height="5.15" fill="#cd8a7b"/>
<rect x="28" y="545.80" width="97.80" height="5.1" fill="#8e96bd"/>
<rect x="17.5" y="555.30" width="108.30" height="5.15" fill="#cd8a7b"/>
<rect x="28" y="561.85" width="97.80" height="5.1" fill="#8e96bd"/>
<rect x="210.5" y="555.24" width="111.00" height="5.3" fill="#a8072d"/>
<rect x="210.5" y="561.64" width="104.00" height="5.4" fill="#29477e"/>
<rect x="83" y="571.35" width="42.80" height="5.15" fill="#cd8a7b"/>
<rect x="65.5" y="577.90" width="60.30" height="5.1" fill="#8e96bd"/>
<rect x="210.5" y="571.38" width="44.50" height="5.3" fill="#a8072d"/>
<rect x="210.5" y="577.78" width="78.25" height="5.4" fill="#29477e"/>
<rect x="66.25" y="587.40" width="59.55" height="5.15" fill="#cd8a7b"/>
<rect x="55.25" y="593.95" width="70.55" height="5.1" fill="#8e96bd"/>
<rect x="210.5" y="587.52" width="14.75" height="5.3" fill="#a8072d"/>
<rect x="210.5" y="593.92" width="26.25" height="5.4" fill="#29477e"/>
<rect x="83" y="603.45" width="42.80" height="5.15" fill="#cd8a7b"/>
<rect x="72.25" y="610.00" width="53.55" height="5.1" fill="#8e96bd"/>
<rect x="210.5" y="603.66" width="59.50" height="5.3" fill="#a8072d"/>
<rect x="210.5" y="610.06" width="78.25" height="5.4" fill="#29477e"/>
<rect x="120.75" y="619.50" width="5.05" height="5.15" fill="#cd8a7b"/>
<rect x="102.25" y="626.05" width="23.55" height="5.1" fill="#8e96bd"/>
<rect x="210.5" y="619.80" width="14.75" height="5.3" fill="#a8072d"/>
<rect x="210.5" y="626.20" width="13.00" height="5.4" fill="#29477e"/>
<rect x="120.75" y="635.55" width="5.05" height="5.15" fill="#cd8a7b"/>
<rect x="109.25" y="642.10" width="16.55" height="5.1" fill="#8e96bd"/>
<rect x="210.5" y="635.94" width="14.75" height="5.3" fill="#a8072d"/>
<rect x="210.5" y="642.34" width="32.50" height="5.4" fill="#29477e"/>
<g stroke="#000" stroke-width="1" fill="none">
<line x1="125.8" y1="534.5" x2="125.8" y2="653"/>
<line x1="210.5" y1="536.2" x2="210.5" y2="653"/>
<line x1="9" y1="650.2" x2="125.8" y2="650.2"/>
<line x1="210.5" y1="650.2" x2="327.5" y2="650.2"/>
<line x1="125.8" y1="544.80" x2="128.3" y2="544.80"/>
<line x1="208.0" y1="544.90" x2="210.5" y2="544.90"/>
<line x1="125.8" y1="560.85" x2="128.3" y2="560.85"/>
<line x1="208.0" y1="561.04" x2="210.5" y2="561.04"/>
<line x1="125.8" y1="576.90" x2="128.3" y2="576.90"/>
<line x1="208.0" y1="577.18" x2="210.5" y2="577.18"/>
<line x1="125.8" y1="592.95" x2="128.3" y2="592.95"/>
<line x1="208.0" y1="593.32" x2="210.5" y2="593.32"/>
<line x1="125.8" y1="609.00" x2="128.3" y2="609.00"/>
<line x1="208.0" y1="609.46" x2="210.5" y2="609.46"/>
<line x1="125.8" y1="625.05" x2="128.3" y2="625.05"/>
<line x1="208.0" y1="625.60" x2="210.5" y2="625.60"/>
<line x1="125.8" y1="641.10" x2="128.3" y2="641.10"/>
<line x1="208.0" y1="641.74" x2="210.5" y2="641.74"/>
<line x1="125.80" y1="650.2" x2="125.80" y2="653.2"/>
<line x1="210.50" y1="650.2" x2="210.50" y2="653.2"/>
<line x1="117.63" y1="650.2" x2="117.63" y2="651.8000000000001"/>
<line x1="218.66" y1="650.2" x2="218.66" y2="651.8000000000001"/>
<line x1="109.47" y1="650.2" x2="109.47" y2="653.2"/>
<line x1="226.83" y1="650.2" x2="226.83" y2="653.2"/>
<line x1="101.30" y1="650.2" x2="101.30" y2="651.8000000000001"/>
<line x1="235.00" y1="650.2" x2="235.00" y2="651.8000000000001"/>
<line x1="93.14" y1="650.2" x2="93.14" y2="653.2"/>
<line x1="243.16" y1="650.2" x2="243.16" y2="653.2"/>
<line x1="84.97" y1="650.2" x2="84.97" y2="651.8000000000001"/>
<line x1="251.32" y1="650.2" x2="251.32" y2="651.8000000000001"/>
<line x1="76.81" y1="650.2" x2="76.81" y2="653.2"/>
<line x1="259.49" y1="650.2" x2="259.49" y2="653.2"/>
<line x1="68.64" y1="650.2" x2="68.64" y2="651.8000000000001"/>
<line x1="267.65" y1="650.2" x2="267.65" y2="651.8000000000001"/>
<line x1="60.48" y1="650.2" x2="60.48" y2="653.2"/>
<line x1="275.82" y1="650.2" x2="275.82" y2="653.2"/>
<line x1="52.31" y1="650.2" x2="52.31" y2="651.8000000000001"/>
<line x1="283.99" y1="650.2" x2="283.99" y2="651.8000000000001"/>
<line x1="44.15" y1="650.2" x2="44.15" y2="653.2"/>
<line x1="292.15" y1="650.2" x2="292.15" y2="653.2"/>
<line x1="35.98" y1="650.2" x2="35.98" y2="651.8000000000001"/>
<line x1="300.31" y1="650.2" x2="300.31" y2="651.8000000000001"/>
<line x1="27.82" y1="650.2" x2="27.82" y2="653.2"/>
<line x1="308.48" y1="650.2" x2="308.48" y2="653.2"/>
<line x1="19.66" y1="650.2" x2="19.66" y2="651.8000000000001"/>
<line x1="316.64" y1="650.2" x2="316.64" y2="651.8000000000001"/>
<line x1="11.49" y1="650.2" x2="11.49" y2="653.2"/>
<line x1="324.81" y1="650.2" x2="324.81" y2="653.2"/>
</g>
<text x="125.80" y="663.7" font-size="8.6" text-anchor="middle">0</text>
<text x="210.50" y="663.7" font-size="8.6" text-anchor="middle">0</text>
<text x="109.47" y="663.7" font-size="8.6" text-anchor="middle">10</text>
<text x="226.83" y="663.7" font-size="8.6" text-anchor="middle">10</text>
<text x="93.14" y="663.7" font-size="8.6" text-anchor="middle">20</text>
<text x="243.16" y="663.7" font-size="8.6" text-anchor="middle">20</text>
<text x="76.81" y="663.7" font-size="8.6" text-anchor="middle">30</text>
<text x="259.49" y="663.7" font-size="8.6" text-anchor="middle">30</text>
<text x="60.48" y="663.7" font-size="8.6" text-anchor="middle">40</text>
<text x="275.82" y="663.7" font-size="8.6" text-anchor="middle">40</text>
<text x="44.15" y="663.7" font-size="8.6" text-anchor="middle">50</text>
<text x="292.15" y="663.7" font-size="8.6" text-anchor="middle">50</text>
<text x="27.82" y="663.7" font-size="8.6" text-anchor="middle">60</text>
<text x="308.48" y="663.7" font-size="8.6" text-anchor="middle">60</text>
<text x="11.49" y="663.7" font-size="8.6" text-anchor="middle">70</text>
<text x="324.81" y="663.7" font-size="8.6" text-anchor="middle">70</text>
<text x="44.8" y="677" font-size="10.2" style="stroke:#000;stroke-width:0.4px" textLength="45" lengthAdjust="spacingAndGlyphs">Frequency (%)</text>
<text x="246.2" y="677" font-size="10.2" style="stroke:#000;stroke-width:0.4px" textLength="45" lengthAdjust="spacingAndGlyphs">Frequency (%)</text>
<text x="168.3" y="547.6" font-size="8.2" text-anchor="middle" textLength="60.8" lengthAdjust="spacingAndGlyphs">DNA-Methylation</text>
<text x="168.3" y="563.3" font-size="8.2" text-anchor="middle" textLength="33.9" lengthAdjust="spacingAndGlyphs">Signaling</text>
<text x="168.3" y="578.9" font-size="8.2" text-anchor="middle" textLength="68.7" lengthAdjust="spacingAndGlyphs">Tumor suppressors</text>
<text x="168.3" y="589.6" font-size="8.2" text-anchor="middle" textLength="71.8" lengthAdjust="spacingAndGlyphs">Chromatin modifiers</text>
<text x="168.3" y="600.1" font-size="8.2" text-anchor="middle" textLength="46.4" lengthAdjust="spacingAndGlyphs">and histones</text>
<text x="168.3" y="611.0" font-size="8.2" text-anchor="middle" textLength="72.3" lengthAdjust="spacingAndGlyphs">Transcription factors</text>
<text x="168.3" y="627.0" font-size="8.2" text-anchor="middle" textLength="47.3" lengthAdjust="spacingAndGlyphs">Spliceosome</text>
<text x="168.3" y="643.0" font-size="8.2" text-anchor="middle" textLength="62.099999999999994" lengthAdjust="spacingAndGlyphs">Cohesin complex</text>
<rect x="13.75" y="630.5" width="11.25" height="3.8" fill="#cd8a7b"/>
<text x="28.2" y="634.6" font-size="7.9" textLength="33.3" lengthAdjust="spacingAndGlyphs">Diagnosis</text>
<rect x="13.75" y="642" width="11.25" height="3.6" fill="#8e96bd"/>
<text x="28.2" y="646.6" font-size="7.9">R/PR</text>
<rect x="278" y="630.7" width="10.75" height="3.8" fill="#a8072d"/>
<text x="292" y="634.6" font-size="7.9" textLength="33.3" lengthAdjust="spacingAndGlyphs">Diagnosis</text>
<rect x="278" y="642" width="10.75" height="3.6" fill="#29477e"/>
<text x="292" y="646.6" font-size="7.9">R/PR</text>
<text x="345" y="514.8" font-size="12" font-weight="bold" style="stroke-width:0.3px">C</text>
<rect x="379.00" y="555.06" width="6.7" height="95.14" fill="#6aab46"/>
<rect x="389.20" y="550.78" width="6.7" height="99.42" fill="#4e2065"/>
<rect x="399.40" y="560.77" width="6.7" height="89.43" fill="#e48a1d"/>
<rect x="415.60" y="627.35" width="6.7" height="22.85" fill="#6aab46"/>
<rect x="425.80" y="629.14" width="6.7" height="21.06" fill="#4e2065"/>
<rect x="436.00" y="624.14" width="6.7" height="26.06" fill="#e48a1d"/>
<rect x="451.80" y="590.58" width="6.7" height="59.62" fill="#6aab46"/>
<rect x="462.00" y="592.54" width="6.7" height="57.66" fill="#4e2065"/>
<rect x="472.20" y="587.73" width="6.7" height="62.47" fill="#e48a1d"/>
<g stroke="#000" stroke-width="1" fill="none">
<line x1="375.6" y1="540.6" x2="375.6" y2="650.2"/>
<line x1="372.5" y1="650.2" x2="483.5" y2="650.2"/>
<line x1="372.6" y1="650.20" x2="375.6" y2="650.20"/>
<line x1="374.0" y1="632.35" x2="375.6" y2="632.35"/>
<line x1="372.6" y1="614.50" x2="375.6" y2="614.50"/>
<line x1="374.0" y1="596.65" x2="375.6" y2="596.65"/>
<line x1="372.6" y1="578.80" x2="375.6" y2="578.80"/>
<line x1="374.0" y1="560.95" x2="375.6" y2="560.95"/>
<line x1="372.6" y1="543.10" x2="375.6" y2="543.10"/>
<line x1="392.2" y1="650.2" x2="392.2" y2="653.5"/>
<line x1="428.7" y1="650.2" x2="428.7" y2="653.5"/>
<line x1="465.6" y1="650.2" x2="465.6" y2="653.5"/>
</g>
<text x="369.4" y="653.25" font-size="8.8" text-anchor="end">0</text>
<text x="369.4" y="617.55" font-size="8.8" text-anchor="end">20</text>
<text x="369.4" y="581.85" font-size="8.8" text-anchor="end">40</text>
<text x="369.4" y="546.15" font-size="8.8" text-anchor="end">60</text>
<text transform="translate(353.65,595.5) rotate(-90)" x="0" y="0" text-anchor="middle" font-size="10.2" style="stroke:#000;stroke-width:0.4px" textLength="45" lengthAdjust="spacingAndGlyphs">Frequency (%)</text>
<rect x="435.8" y="545.00" width="11.1" height="3.7" fill="#6aab46"/>
<text x="450.8" y="549.40" font-size="7.5">Combined</text>
<rect x="435.8" y="553.55" width="11.1" height="3.7" fill="#4e2065"/>
<text x="450.8" y="557.95" font-size="7.5">Adult</text>
<rect x="435.8" y="562.10" width="11.1" height="3.7" fill="#e48a1d"/>
<text x="450.8" y="566.50" font-size="7.5">Pediatric</text>
<text transform="translate(396.10,662.00) rotate(-45)" x="0" y="0" font-size="8.35" text-anchor="end">Stable</text>
<text transform="translate(402.18,668.08) rotate(-45)" x="0" y="0" font-size="8.35" text-anchor="end">from D to R</text>
<text transform="translate(432.60,662.00) rotate(-45)" x="0" y="0" font-size="8.35" text-anchor="end">Lost</text>
<text transform="translate(438.68,668.08) rotate(-45)" x="0" y="0" font-size="8.35" text-anchor="end">at relapse</text>
<text transform="translate(469.50,662.00) rotate(-45)" x="0" y="0" font-size="8.35" text-anchor="end">Gained</text>
<text transform="translate(475.58,668.08) rotate(-45)" x="0" y="0" font-size="8.35" text-anchor="end">at relapse</text>
<rect x="0.5" y="0.5" width="519" height="703" fill="none" stroke="#000" stroke-width="1"/>
</svg></body></html>
